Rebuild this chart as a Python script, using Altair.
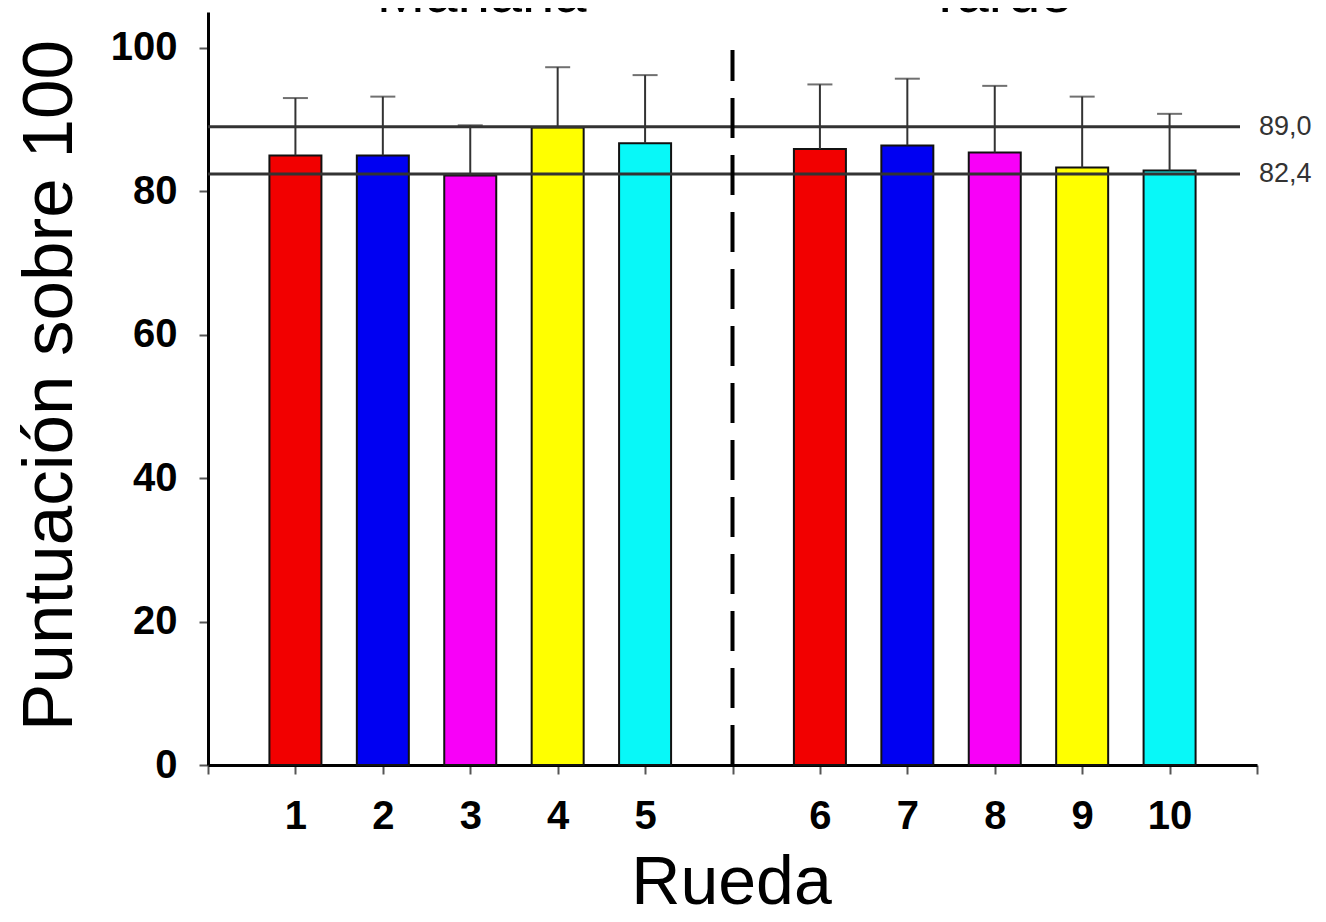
import json
import altair as alt
import pandas as pd

# ---- data ----
ruedas = ["1", "2", "3", "4", "5", "6", "7", "8", "9", "10"]
posiciones = [1, 2, 3, 4, 5, 7, 8, 9, 10, 11]
puntuacion = [85.0, 85.0, 82.2, 88.9, 86.7, 85.9, 86.4, 85.4, 83.3, 82.9]
error_sup = [93.0, 93.2, 89.2, 97.3, 96.2, 94.9, 95.7, 94.7, 93.2, 90.8]
colores = ["#f20000", "#0000f2", "#f800f8", "#ffff00", "#08f8f8",
           "#f20000", "#0000f2", "#f800f8", "#ffff00", "#08f8f8"]
referencias = [89.0, 82.4]
ref_etiquetas = ["89,0", "82,4"]
periodos = ["Mañana", "Tarde"]
periodo_pos = [3.13, 9.06]
divisor_pos = [6]
divisor_top = [99.7]
x_ticks = list(range(13))

FONT = "Liberation Sans"

df = pd.DataFrame({"rueda": ruedas, "pos": posiciones,
                   "valor": puntuacion, "sup": error_sup})
df_ref = pd.DataFrame({"ref": referencias, "etq": ref_etiquetas})
df_per = pd.DataFrame({"periodo": periodos, "pos": periodo_pos})
df_div = pd.DataFrame({"pos": divisor_pos, "y0": [0], "y1": divisor_top})

# tick labels at each integer position
lab_by_pos = [""] * 13
for p, r in zip(posiciones, ruedas):
    lab_by_pos[p] = r
label_expr = json.dumps(lab_by_pos) + "[datum.value]"

xscale = alt.Scale(domain=[0, 12], nice=False, zero=False, padding=0)
yscale = alt.Scale(domain=[0, 105], nice=False, padding=0)

x_axis = alt.Axis(values=x_ticks, labelExpr=label_expr, grid=False,
                  domainColor="black", domainWidth=3,
                  tickColor="#555", tickWidth=2, tickSize=9,
                  labelFont=FONT, labelFontSize=40, labelFontWeight="bold",
                  labelColor="black", labelPadding=22, labelFlush=False,
                  labelOverlap=False, offset=0,
                  title="Rueda", titleFont=FONT, titleFontSize=68,
                  titleFontWeight="normal", titleColor="black",
                  titleX=523, titleY=138, titleAlign="center",
                  titleBaseline="alphabetic")

y_axis = alt.Axis(values=[0, 20, 40, 60, 80, 100], grid=False,
                  domainColor="black", domainWidth=3,
                  tickColor="#555", tickWidth=2, tickSize=9,
                  labelFont=FONT, labelFontSize=40, labelFontWeight="bold",
                  labelColor="black", labelPadding=22, offset=0,
                  title="Puntuación sobre 100", titleFont=FONT,
                  titleFontSize=71, titleFontWeight="normal",
                  titleColor="black", titleAngle=270,
                  titleX=-137, titleY=373, titleAlign="center",
                  titleBaseline="alphabetic")

base = alt.Chart(df)

bars = base.mark_bar(size=52, stroke="#111", strokeWidth=2).encode(
    x=alt.X("pos:Q", scale=xscale, axis=x_axis),
    y=alt.Y("valor:Q", scale=yscale, axis=y_axis),
    color=alt.Color("rueda:N", scale=alt.Scale(domain=ruedas, range=colores),
                    legend=None),
)

err = base.mark_rule(color="#333", strokeWidth=2).encode(
    x=alt.X("pos:Q", scale=xscale),
    y=alt.Y("valor:Q", scale=yscale),
    y2="sup:Q",
)

caps = base.mark_tick(orient="horizontal", size=25, thickness=2,
                      color="#333").encode(
    x=alt.X("pos:Q", scale=xscale),
    y=alt.Y("sup:Q", scale=yscale),
)

ref_lines = alt.Chart(df_ref).mark_rule(color="#333", strokeWidth=3).encode(
    x=alt.value(0), x2=alt.value(1032),
    y=alt.Y("ref:Q", scale=yscale),
)

ref_text = alt.Chart(df_ref).mark_text(
    align="left", baseline="middle", font=FONT, fontSize=27,
    color="#333", dx=2).encode(
    x=alt.value(1049),
    y=alt.Y("ref:Q", scale=yscale),
    text="etq:N",
)

divider = alt.Chart(df_div).mark_rule(
    color="black", strokeWidth=4, strokeDash=[40, 17]).encode(
    x=alt.X("pos:Q", scale=xscale),
    y=alt.Y("y0:Q", scale=yscale),
    y2="y1:Q",
)

titles = alt.Chart(df_per).mark_text(
    align="center", baseline="alphabetic", font=FONT, fontSize=58,
    color="black").encode(
    x=alt.X("pos:Q", scale=xscale),
    y=alt.value(0),
    text="periodo:N",
)

chart = alt.layer(bars, err, caps, ref_lines, ref_text, divider, titles).properties(
    width=1049, height=753,
    autosize=alt.AutoSizeParams(type="none"),
    padding={"left": 200, "top": 4, "right": 61, "bottom": 148},
    background="white",
).configure_view(stroke=None)

chart.save("out.html", embed_options={"renderer": "svg", "actions": False})
